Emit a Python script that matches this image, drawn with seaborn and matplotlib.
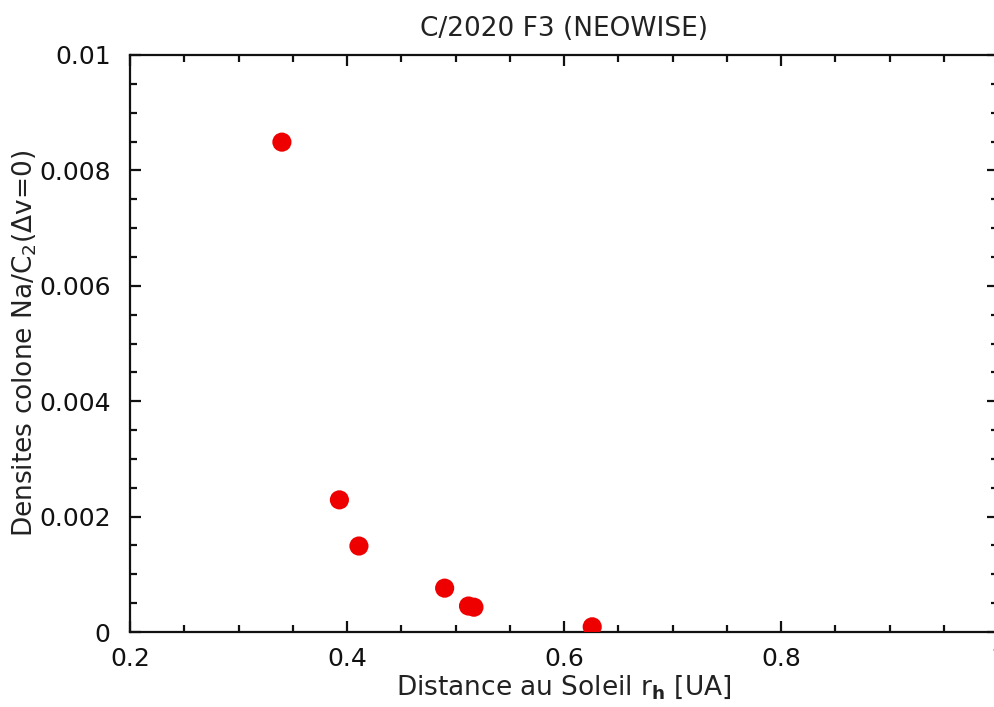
import matplotlib
matplotlib.use("Agg")
import matplotlib.pyplot as plt
import seaborn as sns
import pandas as pd
from matplotlib.ticker import MultipleLocator, FixedLocator

rh = [0.340, 0.393, 0.411, 0.490, 0.512, 0.517, 0.626]
ratio = [0.00849, 0.00229, 0.00149, 0.00076, 0.00045, 0.00043, 0.00009]
xticks = [0.2, 0.4, 0.6, 0.8, 1.0]
xticklabels = ["0.2", "0.4", "0.6", "0.8", "1"]
yticks = [0, 0.002, 0.004, 0.006, 0.008, 0.01]
yticklabels = ["0", "0.002", "0.004", "0.006", "0.008", "0.01"]

sns.set_style("ticks")
plt.rcParams['font.family'] = ['DejaVu Sans']
plt.rcParams['mathtext.fontset'] = 'dejavusans'

df = pd.DataFrame({"rh": rh, "ratio": ratio})

fig = plt.figure(figsize=(9.94, 7.07), dpi=100)
ax = fig.add_axes([130/994, 75/707, 868/994, 577/707])
sns.scatterplot(data=df, x="rh", y="ratio", ax=ax, color="#ee0000",
                s=190, edgecolor="none", linewidth=0, zorder=3)

ax.set_xlim(0.2, 1.0)
ax.set_ylim(0, 0.01)
ax.xaxis.set_major_locator(FixedLocator(xticks))
ax.set_xticklabels(xticklabels)
ax.yaxis.set_major_locator(FixedLocator(yticks))
ax.set_yticklabels(yticklabels)
ax.xaxis.set_minor_locator(MultipleLocator(0.05))
ax.yaxis.set_minor_locator(MultipleLocator(0.0005))
ax.tick_params(which='both', direction='in', top=True, right=True,
               width=1.6, colors='#111111', labelsize=18)
ax.tick_params(axis='x', pad=11)
ax.tick_params(axis='y', pad=14)
ax.tick_params(which='major', length=8)
ax.tick_params(which='minor', length=5)
for sp in ax.spines.values():
    sp.set_visible(True)
    sp.set_linewidth(1.6)
    sp.set_color('#111111')

ax.set_xlabel(r"Distance au Soleil r$_\mathbf{h}$ [UA]", fontsize=19, labelpad=1, color='#222222')
ax.set_ylabel(r"Densites colone Na/C$_2$($\Delta$v=0)", fontsize=19, labelpad=0, color='#222222')
ax.set_title("C/2020 F3 (NEOWISE)", fontsize=19, pad=14, color='#222222')

fig.savefig("out.png", dpi=100)
